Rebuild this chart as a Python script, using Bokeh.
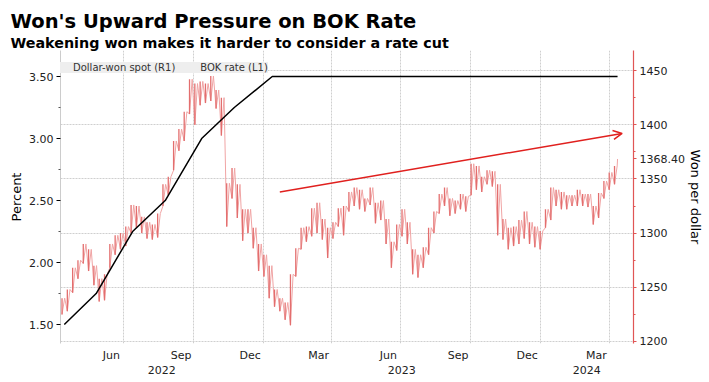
import pandas as pd
from bokeh.plotting import figure
from bokeh.models import (Range1d, LinearAxis, FixedTicker, Grid, Arrow,
                          OpenHead, Legend, LegendItem, Title, NumeralTickFormatter)
from bokeh.embed import file_html
from bokeh.resources import INLINE

# ---------------- data ----------------
won_start = "2022-04-11"   # weekly (Monday) readings of the dollar-won high/low
won_high = [1240, 1248, 1268, 1275, 1290, 1285, 1270, 1258, 1262, 1290,
            1298, 1300, 1306, 1326, 1325, 1315, 1310, 1308, 1318, 1345,
            1352, 1385, 1396, 1412, 1442, 1438, 1440, 1438, 1445, 1432,
            1425, 1346, 1360, 1345, 1322, 1322, 1305, 1290, 1280, 1270,
            1248, 1240, 1236, 1262, 1286, 1305, 1306, 1323, 1328, 1313,
            1305, 1310, 1323, 1325, 1338, 1342, 1340, 1332, 1342, 1328,
            1330, 1313, 1292, 1308, 1322, 1310, 1285, 1280, 1287, 1305,
            1320, 1336, 1342, 1332, 1330, 1336, 1334, 1364, 1362, 1352,
            1358, 1357, 1345, 1313, 1305, 1306, 1312, 1320, 1310, 1306,
            1302, 1322, 1342, 1340, 1338, 1335, 1335, 1340, 1336, 1336,
            1325, 1337, 1348, 1356, 1362]
won_low = [1225, 1228, 1245, 1258, 1272, 1265, 1252, 1237, 1238, 1268,
           1280, 1285, 1288, 1300, 1305, 1300, 1295, 1294, 1296, 1325,
           1335, 1358, 1376, 1385, 1410, 1400, 1418, 1420, 1422, 1415,
           1390, 1306, 1332, 1314, 1293, 1300, 1286, 1265, 1260, 1240,
           1232, 1228, 1220, 1215, 1260, 1285, 1292, 1297, 1300, 1294,
           1277, 1295, 1306, 1298, 1320, 1325, 1322, 1320, 1326, 1309,
           1312, 1290, 1268, 1284, 1297, 1290, 1262, 1259, 1268, 1280,
           1300, 1318, 1325, 1316, 1318, 1322, 1320, 1335, 1340, 1338,
           1345, 1343, 1298, 1294, 1285, 1288, 1290, 1295, 1290, 1287,
           1285, 1305, 1312, 1325, 1322, 1322, 1325, 1325, 1325, 1324,
           1308, 1314, 1332, 1340, 1345]
won_last_date = "2024-04-12"
won_last = 1368.40

bok_dates = ["2022-04-14", "2022-05-26", "2022-07-13", "2022-08-25",
             "2022-10-12", "2022-11-24", "2023-01-13", "2024-04-12"]
bok_rate = [1.50, 1.75, 2.25, 2.50, 3.00, 3.25, 3.50, 3.50]

trend_dates = ["2023-01-23", "2024-04-18"]
trend_won = [1338, 1392]

month_dates = ["2022-06-15", "2022-09-15", "2022-12-15", "2023-03-15",
               "2023-06-15", "2023-09-15", "2023-12-15", "2024-03-15"]
month_labels = ["Jun", "Sep", "Dec", "Mar", "Jun", "Sep", "Dec", "Mar"]
year_labels = ["2022", "2023", "2024"]
grid_dates = ["2022-07-01", "2022-10-01", "2023-01-01", "2023-04-01",
              "2023-07-01", "2023-10-01", "2024-01-01", "2024-04-01"]
pct_ticks = [1.5, 2.0, 2.5, 3.0, 3.5]
pct_minor = [1.75, 2.25, 2.75, 3.25]
won_ticks = [1200, 1250, 1300, 1350, 1400, 1450]
won_minor = [1225, 1275, 1325, 1375, 1425]

x_start, x_end = "2022-04-09", "2024-05-03"


def ms(d):
    return pd.Timestamp(d).value / 1e6


DAY = 86400000.0
FONT = "DejaVu Sans"
RED = "#e05555"

x0, x1 = ms(x_start), ms(x_end)
week_x = [ms(d) for d in pd.date_range(won_start, periods=len(won_high), freq="7D")]

p = figure(width=709, height=382, output_backend="svg", toolbar_location=None,
           x_range=Range1d(x0, x1), y_range=Range1d(1.347, 3.71),
           x_axis_type=None, y_axis_type=None,
           min_border_left=60, min_border_right=76, min_border_top=50,
           min_border_bottom=39)
p.extra_y_ranges = {"won": Range1d(1198.15, 1468.5)}
p.outline_line_color = None
p.background_fill_color = "white"

# grids
p.add_layout(Grid(dimension=0, ticker=FixedTicker(ticks=[ms(d) for d in grid_dates]),
                  grid_line_color="#cfcfcf", grid_line_dash="2 1"))
p.add_layout(Grid(dimension=1, y_range_name="won", ticker=FixedTicker(ticks=won_ticks),
                  grid_line_color="#cfcfcf", grid_line_dash="2 1"))

# dollar-won spot: weekly high/low bars and a thin zigzag path through them
zx, zy = [], []
for xv, lo, hi in zip(week_x, won_low, won_high):
    zx += [xv, xv + 3.5 * DAY]
    zy += [lo, hi]
zx.append(ms(won_last_date))
zy.append(won_last)
p.line(zx, zy, y_range_name="won", line_color="#f0a4a4", line_width=1)
p.segment(x0=week_x, y0=won_low, x1=week_x, y1=won_high, y_range_name="won",
          line_color="#e36e6e", line_width=1.3)

# BOK rate
p.line([ms(d) for d in bok_dates], bok_rate, line_color="black", line_width=1.5)

# trend arrow
p.add_layout(Arrow(end=OpenHead(size=9, line_color="#e0201e", line_width=1.5),
                   x_start=ms(trend_dates[0]), y_start=trend_won[0],
                   x_end=ms(trend_dates[1]), y_end=trend_won[1],
                   y_range_name="won", line_color="#e0201e", line_width=1.5))

# left axis (percent)
la = LinearAxis(ticker=FixedTicker(ticks=pct_ticks, minor_ticks=pct_minor),
                formatter=NumeralTickFormatter(format="0.00"),
                axis_label="Percent", axis_label_text_font=FONT,
                axis_label_text_font_size="13px", axis_label_text_font_style="normal",
                axis_label_text_color="black", axis_label_standoff=2,
                major_label_text_font=FONT, major_label_text_font_size="11px",
                major_label_text_color="#222222", major_label_standoff=3,
                axis_line_color="#cccccc", major_tick_line_color="black",
                major_tick_in=0, major_tick_out=4, minor_tick_line_color="#555555",
                minor_tick_in=0, minor_tick_out=2)
p.add_layout(la, "left")

# right axis (won), with the latest value as an extra labelled tick
r_ticks = sorted(won_ticks + [won_last])
ra = LinearAxis(y_range_name="won", ticker=FixedTicker(ticks=r_ticks, minor_ticks=won_minor),
                formatter=NumeralTickFormatter(format="0"),
                major_label_overrides={won_last: f"{won_last:.2f}"},
                axis_label="Won per dollar", axis_label_text_font=FONT,
                axis_label_text_font_size="13px", axis_label_text_font_style="normal",
                axis_label_text_color="black", axis_label_standoff=0,
                major_label_text_font=FONT, major_label_text_font_size="11px",
                major_label_text_color="#222222", major_label_standoff=3,
                axis_line_color=RED, axis_line_width=1.2, major_tick_line_color=RED,
                major_tick_in=0, major_tick_out=3, minor_tick_line_color=RED,
                minor_tick_in=0, minor_tick_out=2)
p.add_layout(ra, "right")

# one bottom axis: month names on the first line, year names on the second line
mticks = [ms(d) for d in month_dates]
yticks = []
for yl in year_labels:
    a = max(ms(f"{yl}-01-01"), x0)
    b = min(ms(f"{int(yl) + 1}-01-01"), x1)
    yticks.append((a + b) / 2)
overrides = {t: l for t, l in zip(mticks, month_labels)}
overrides.update({t: "\n" + l for t, l in zip(yticks, year_labels)})
ba = LinearAxis(ticker=FixedTicker(ticks=sorted(mticks + yticks), minor_ticks=[]),
                major_label_overrides=overrides,
                major_label_text_font=FONT, major_label_text_font_size="11px",
                major_label_text_color="#222222", major_label_standoff=5,
                axis_line_color=None, major_tick_line_color=None,
                minor_tick_line_color=None, major_tick_in=0, major_tick_out=0,
                minor_tick_in=0, minor_tick_out=0)
p.add_layout(ba, "below")

# legend with square swatches
r_won_leg = p.rect(x=[], y=[], width=1, height=1, fill_color="#f07070", line_color=None)
r_bok_leg = p.rect(x=[], y=[], width=1, height=1, fill_color="black", line_color=None)
leg = Legend(items=[LegendItem(label="Dollar-won spot (R1)", renderers=[r_won_leg]),
                    LegendItem(label="BOK rate (L1)", renderers=[r_bok_leg])],
             orientation="horizontal", location=(0, 270), margin=0, padding=3,
             spacing=12, glyph_width=9, glyph_height=9, label_height=11,
             label_standoff=4, label_text_font=FONT, label_text_font_size="10px",
             label_text_color="#333333", background_fill_color="#eeeeee",
             background_fill_alpha=1, border_line_color=None)
p.add_layout(leg, "center")

# titles (the extra title sits nearest the plot)
p.title.text = "Won's Upward Pressure on BOK Rate"
p.title.text_font = FONT
p.title.text_font_size = "19.5px"
p.title.text_font_style = "bold"
p.title.text_color = "black"
p.title.standoff = 0
p.title.offset = -50
p.add_layout(Title(text="Weakening won makes it harder to consider a rate cut",
                   text_font=FONT, text_font_size="14.3px", text_font_style="bold",
                   text_color="black", standoff=0, offset=-50), "above")

open("out.html", "w").write(file_html(p, INLINE))
